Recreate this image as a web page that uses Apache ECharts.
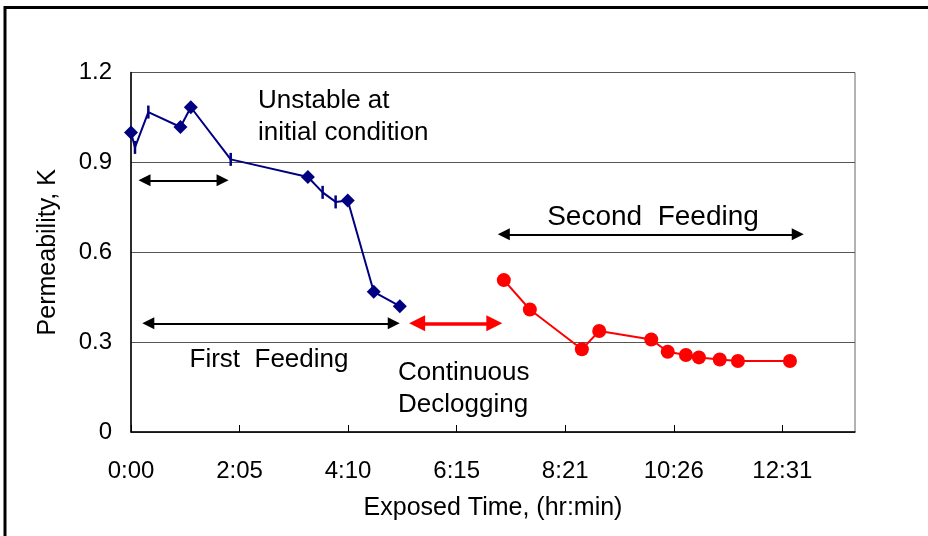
<!DOCTYPE html>
<html>
<head>
<meta charset="utf-8">
<title>Permeability vs exposed time</title>
<script src="https://cdn.jsdelivr.net/npm/echarts@6/dist/echarts.min.js"></script>
<style>
html, body { margin: 0; padding: 0; background: #fff; }
#chart { width: 928px; height: 536px; }
</style>
</head>
<body>
<div id="chart"></div>
<script>
// exposed time in minutes, permeability K
const blueTime = [0, 4.6, 20, 57, 69, 115, 204, 221, 236, 250, 280, 310];
const blueK = [1.0, 0.95, 1.068, 1.018, 1.084, 0.91, 0.851, 0.80, 0.768, 0.773, 0.468, 0.42];
const blueShape = ['diamond', 'dash', 'dash', 'diamond', 'diamond', 'dash', 'diamond', 'dash', 'dash', 'diamond', 'diamond', 'diamond'];

const redTime = [430, 460, 520, 540, 600, 619, 640, 655, 679, 700, 760];
const redK = [0.507, 0.409, 0.276, 0.337, 0.309, 0.268, 0.257, 0.249, 0.242, 0.237, 0.237];

const xTickLabels = ['0:00', '2:05', '4:10', '6:15', '8:21', '10:26', '12:31'];
const xStep = 125.2;
const xMax = 835;
const yTickLabels = ['0', '0.3', '0.6', '0.9', '1.2'];

// arrows: [from time, to time, K level]
const blackArrows = [[15.6, 105.6, 0.84], [430, 769, 0.66], [20, 303, 0.363]];
const redArrow = [330, 419, 0.363];

const font = "'Liberation Sans', Arial, sans-serif";
const navy = '#000080';
const red = '#ff0000';

const chart = echarts.init(document.getElementById('chart'));

function arrowLine (a) {
  return [{ coord: [a[0], a[2]] }, { coord: [a[1], a[2]] }];
}

const blueData = blueTime.map(function (t, i) {
  const dash = blueShape[i] === 'dash';
  return {
    value: [t, blueK[i]],
    symbol: dash ? 'rect' : 'diamond',
    symbolSize: dash ? [2.5, 13] : 14
  };
});

chart.setOption({
  animation: false,
  grid: {
    left: 131, right: 73, top: 72.5, bottom: 104,
    show: true, borderColor: '#666', borderWidth: 1
  },
  xAxis: {
    type: 'value',
    min: 0,
    max: xMax,
    interval: xStep,
    name: 'Exposed Time, (hr:min)',
    nameLocation: 'middle',
    nameGap: 64,
    nameTextStyle: { fontFamily: font, fontSize: 25, color: '#000' },
    axisLine: { lineStyle: { color: '#000', width: 1.5 } },
    axisTick: { inside: true, length: 7, lineStyle: { color: '#000' } },
    axisLabel: {
      fontFamily: font, fontSize: 24, color: '#000', margin: 27,
      showMaxLabel: false,
      formatter: function (v) {
        const i = Math.round(v / xStep);
        if (Math.abs(v - i * xStep) > 1) return '';
        return xTickLabels[i] || '';
      }
    },
    splitLine: { show: false }
  },
  yAxis: {
    type: 'value',
    min: 0,
    max: 1.2,
    interval: 0.3,
    name: 'Permeability, K',
    nameLocation: 'middle',
    nameRotate: 90,
    nameGap: 70,
    nameTextStyle: { fontFamily: font, fontSize: 25, color: '#000' },
    axisLine: { show: true, lineStyle: { color: '#000', width: 1.5 } },
    axisTick: { show: false },
    axisLabel: {
      fontFamily: font, fontSize: 24, color: '#000', margin: 19,
      formatter: function (v) {
        return yTickLabels[Math.round(v / 0.3)];
      }
    },
    splitLine: { show: true, lineStyle: { color: '#555', width: 1 } }
  },
  graphic: [
    {
      type: 'rect', silent: true,
      shape: { x: 5, y: 7.5, width: 1000, height: 1000 },
      style: { fill: 'none', stroke: '#000', lineWidth: 3 }
    },
    {
      type: 'text', x: 258, y: 117,
      style: { text: 'Unstable at\ninitial condition', font: '26px ' + font, fill: '#000', verticalAlign: 'middle', lineHeight: 32 }
    },
    {
      type: 'text', x: 653, y: 217,
      style: { text: 'Second  Feeding', font: '28px ' + font, fill: '#000', align: 'center', verticalAlign: 'middle' }
    },
    {
      type: 'text', x: 269, y: 360,
      style: { text: 'First  Feeding', font: '26px ' + font, fill: '#000', align: 'center', verticalAlign: 'middle' }
    },
    {
      type: 'text', x: 398, y: 389,
      style: { text: 'Continuous\nDeclogging', font: '26px ' + font, fill: '#000', verticalAlign: 'middle', lineHeight: 32 }
    }
  ],
  series: [
    {
      name: 'First Feeding',
      type: 'line',
      data: blueData,
      lineStyle: { color: navy, width: 2 },
      itemStyle: { color: navy },
      showAllSymbol: true
    },
    {
      name: 'Second Feeding',
      type: 'line',
      data: redTime.map(function (t, i) { return [t, redK[i]]; }),
      symbol: 'circle',
      symbolSize: 14,
      lineStyle: { color: red, width: 2 },
      itemStyle: { color: red }
    },
    {
      name: 'arrows',
      type: 'line',
      data: [],
      markLine: {
        silent: true,
        symbol: ['triangle', 'triangle'],
        symbolSize: 12,
        label: { show: false },
        lineStyle: { color: '#000', width: 2, type: 'solid' },
        data: blackArrows.map(arrowLine)
      }
    },
    {
      name: 'declog',
      type: 'line',
      data: [],
      markLine: {
        silent: true,
        symbol: ['triangle', 'triangle'],
        symbolSize: 16,
        label: { show: false },
        lineStyle: { color: red, width: 3.5, type: 'solid' },
        data: [arrowLine(redArrow)]
      }
    }
  ]
});
</script>
</body>
</html>
